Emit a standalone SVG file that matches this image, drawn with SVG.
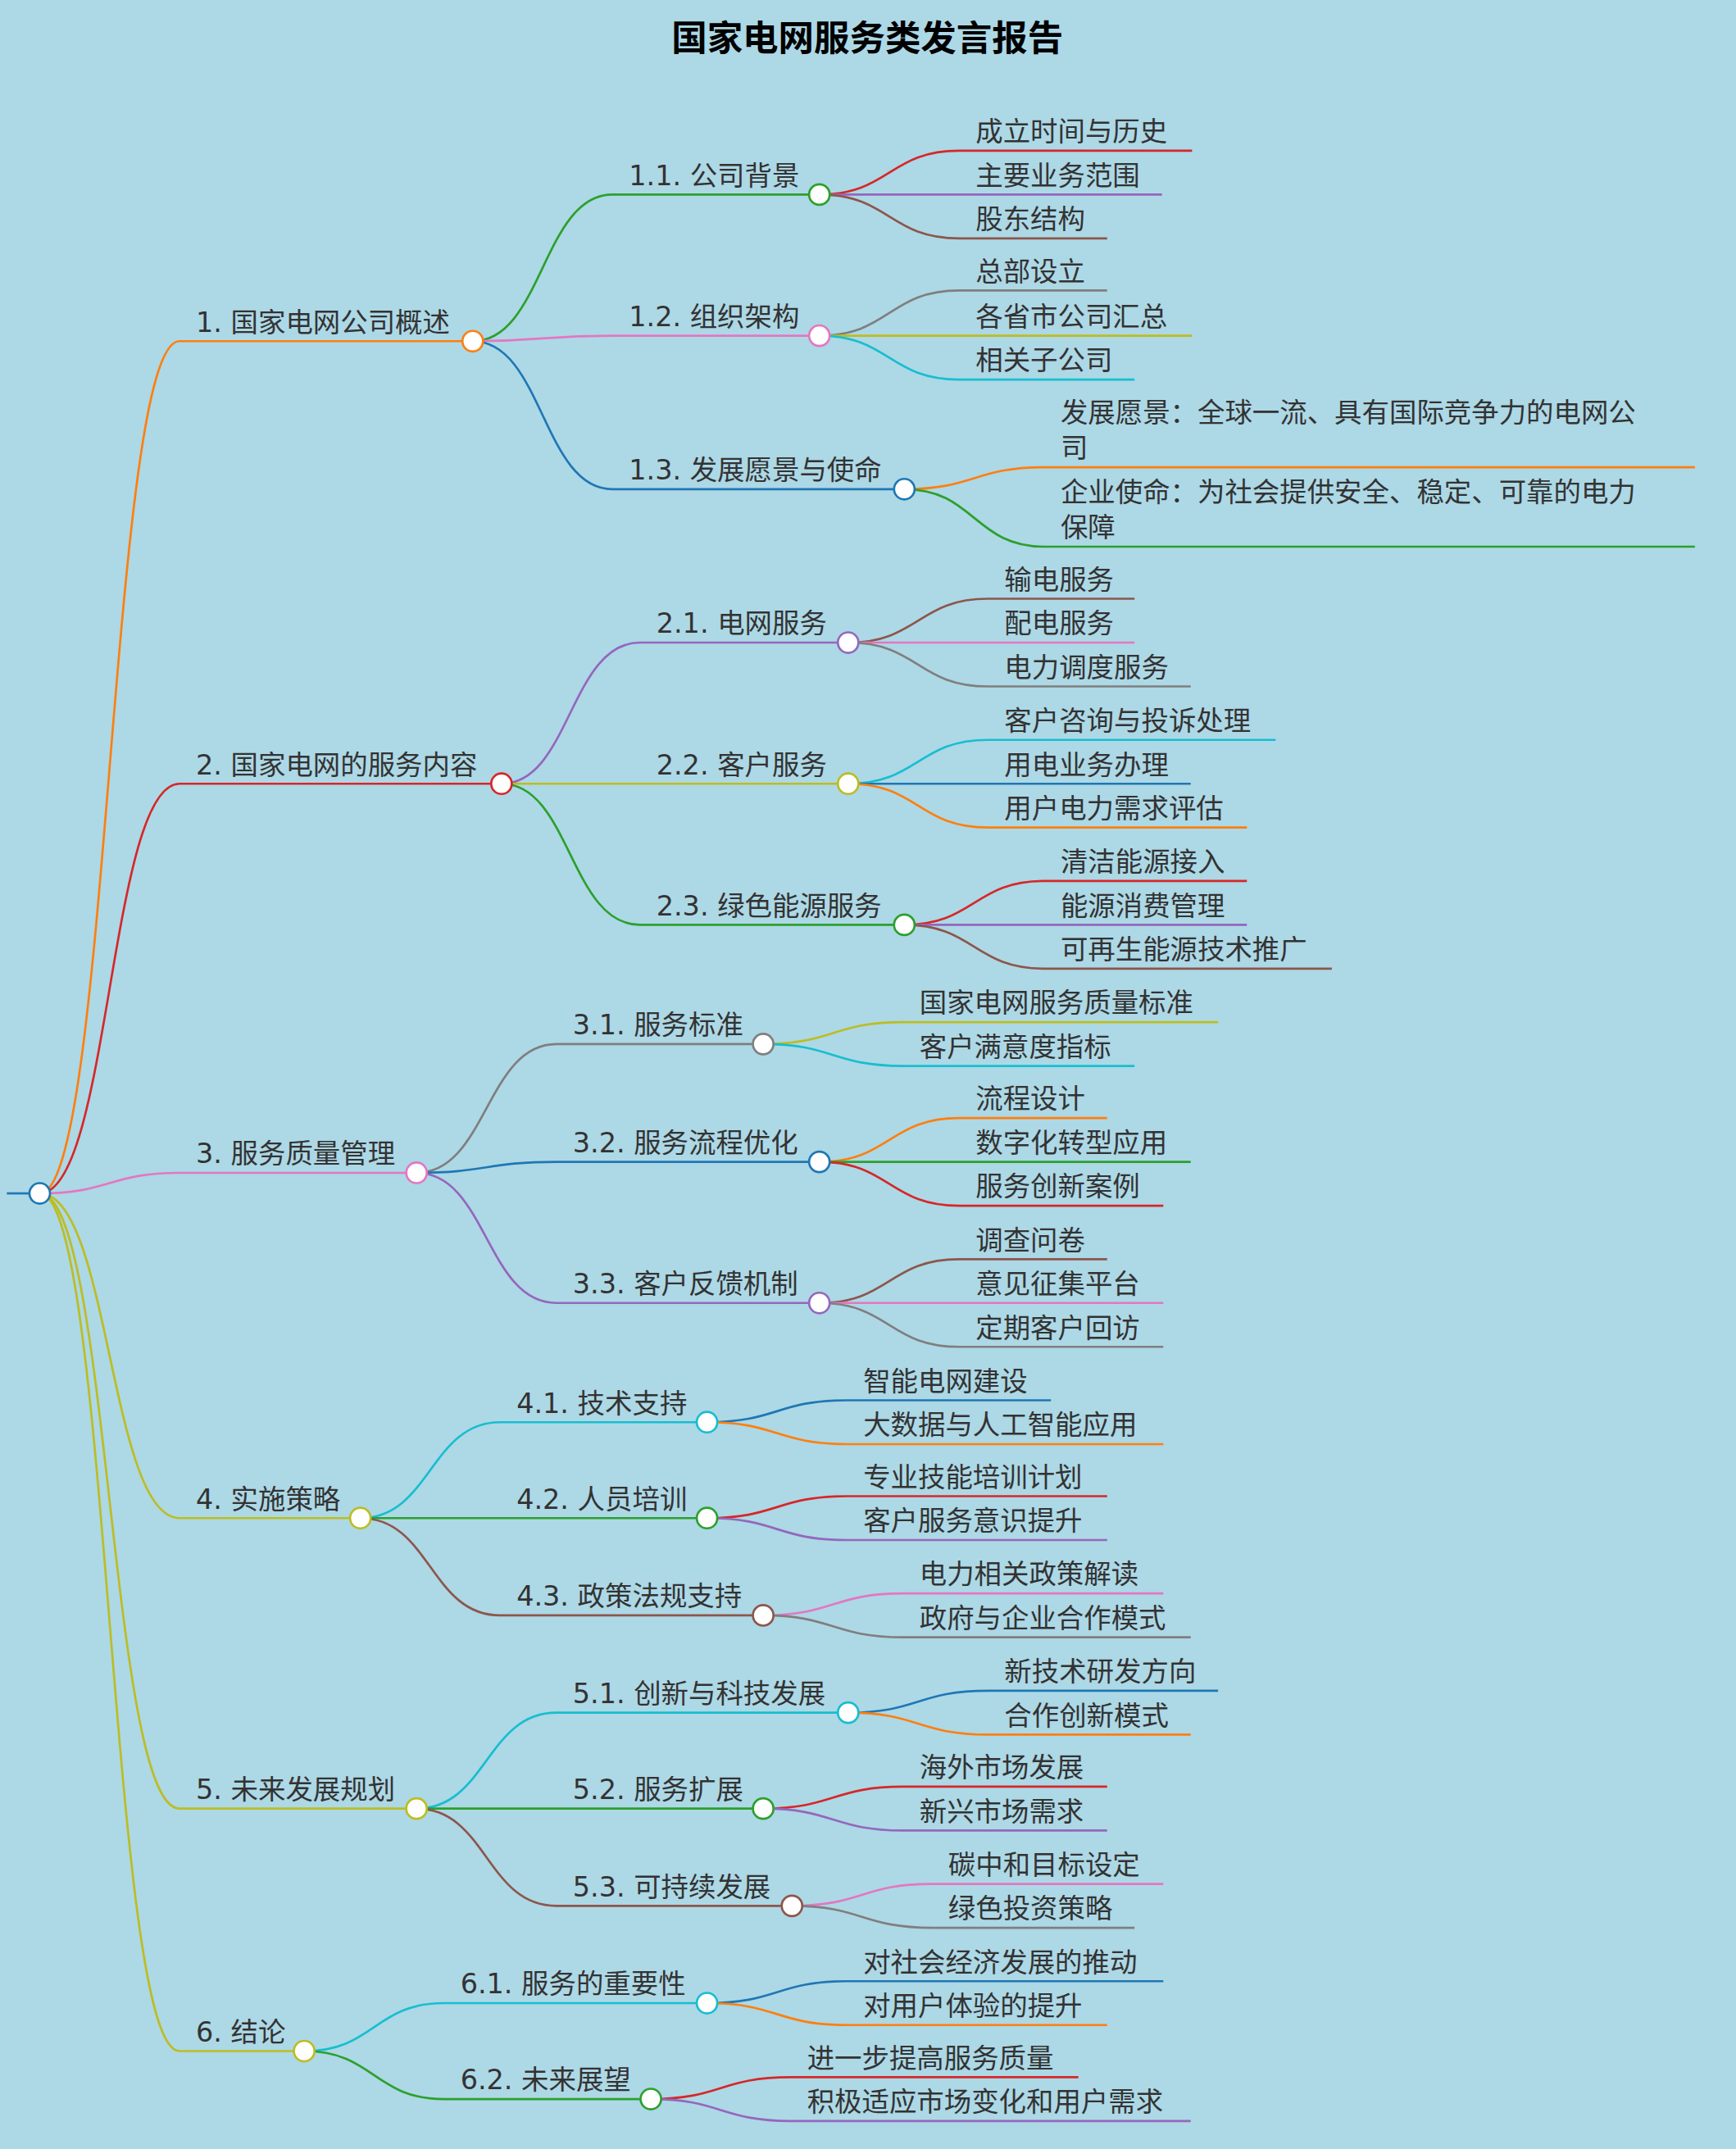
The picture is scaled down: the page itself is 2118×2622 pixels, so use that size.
<svg xmlns="http://www.w3.org/2000/svg" width="2118" height="2622" viewBox="0 0 2118 2622">
<style>
.e path{fill:none;stroke-width:1.6}
.t{font-family:"DejaVu Sans","Noto Sans CJK SC",sans-serif;font-size:20px;fill:#333}
circle{fill:#fff;stroke-width:1.6}
.O{stroke:#ff7f0e}.G{stroke:#2ca02c}.R{stroke:#d62728}.P{stroke:#9467bd}.B{stroke:#8c564b}.K{stroke:#e377c2}.Y{stroke:#7f7f7f}.L{stroke:#bcbd22}.C{stroke:#17becf}.U{stroke:#1f77b4}
</style>
<rect width="2118" height="2622" fill="#add8e6"/>
<g transform="scale(1.6717)">
<text x="633" y="37" text-anchor="middle" font-family="DejaVu Sans,'Noto Sans CJK SC',sans-serif" font-size="26" font-weight="bold" fill="#000">国家电网服务类发言报告</text>
<g id="connectors" class="e">
<path class="U" d="M5 871H21"/>
<path class="O" d="M29 871C80 871 80 249 131 249H337"/>
<path class="R" d="M29 871C80 871 80 572 131 572H358"/>
<path class="K" d="M29 871C80 871 80 856 131 856H296"/>
<path class="L" d="M29 871C80 871 80 1108 131 1108H255"/>
<path class="L" d="M29 871C80 871 80 1320 131 1320H296"/>
<path class="L" d="M29 871C80 871 80 1497 131 1497H214"/>
<path class="G" d="M345 249C396 249 396 142 447 142H590"/>
<path class="K" d="M345 249C396 249 396 245 447 245H590"/>
<path class="U" d="M345 249C396 249 396 357 447 357H652"/>
<path class="P" d="M366 572C416 572 416 469 467 469H611"/>
<path class="L" d="M366 572C416 572 416 572 467 572H611"/>
<path class="G" d="M366 572C416 572 416 675 467 675H652"/>
<path class="Y" d="M304 856C355 856 355 762 406 762H549"/>
<path class="U" d="M304 856C355 856 355 848 406 848H590"/>
<path class="P" d="M304 856C355 856 355 951 406 951H590"/>
<path class="C" d="M263 1108C314 1108 314 1038 365 1038H508"/>
<path class="G" d="M263 1108C314 1108 314 1108 365 1108H508"/>
<path class="B" d="M263 1108C314 1108 314 1179 365 1179H549"/>
<path class="C" d="M304 1320C355 1320 355 1250 406 1250H611"/>
<path class="G" d="M304 1320C355 1320 355 1320 406 1320H549"/>
<path class="B" d="M304 1320C355 1320 355 1391 406 1391H570"/>
<path class="C" d="M222 1497C273 1497 273 1462 324 1462H508"/>
<path class="G" d="M222 1497C273 1497 273 1532 324 1532H467"/>
<path class="R" d="M598 142C649 142 649 110 700 110H870"/>
<path class="P" d="M598 142C649 142 649 142 700 142H848"/>
<path class="B" d="M598 142C649 142 649 174 700 174H808"/>
<path class="Y" d="M598 245C649 245 649 212 700 212H808"/>
<path class="L" d="M598 245C649 245 649 245 700 245H870"/>
<path class="C" d="M598 245C649 245 649 277 700 277H828"/>
<path class="O" d="M660 357C711 357 711 341 762 341H1237"/>
<path class="G" d="M660 357C711 357 711 399 762 399H1237"/>
<path class="B" d="M619 469C670 469 670 437 721 437H828"/>
<path class="K" d="M619 469C670 469 670 469 721 469H828"/>
<path class="Y" d="M619 469C670 469 670 501 721 501H869"/>
<path class="C" d="M619 572C670 572 670 540 721 540H931"/>
<path class="U" d="M619 572C670 572 670 572 721 572H869"/>
<path class="O" d="M619 572C670 572 670 604 721 604H910"/>
<path class="R" d="M660 675C711 675 711 643 762 643H910"/>
<path class="P" d="M660 675C711 675 711 675 762 675H910"/>
<path class="B" d="M660 675C711 675 711 707 762 707H972"/>
<path class="L" d="M557 762C608 762 608 746 659 746H889"/>
<path class="C" d="M557 762C608 762 608 778 659 778H828"/>
<path class="O" d="M598 848C649 848 649 816 700 816H808"/>
<path class="G" d="M598 848C649 848 649 848 700 848H869"/>
<path class="R" d="M598 848C649 848 649 880 700 880H849"/>
<path class="B" d="M598 951C649 951 649 919 700 919H808"/>
<path class="K" d="M598 951C649 951 649 951 700 951H849"/>
<path class="Y" d="M598 951C649 951 649 983 700 983H849"/>
<path class="U" d="M516 1038C567 1038 567 1022 618 1022H767"/>
<path class="O" d="M516 1038C567 1038 567 1054 618 1054H849"/>
<path class="R" d="M516 1108C567 1108 567 1092 618 1092H808"/>
<path class="P" d="M516 1108C567 1108 567 1124 618 1124H808"/>
<path class="K" d="M557 1179C608 1179 608 1163 659 1163H849"/>
<path class="Y" d="M557 1179C608 1179 608 1195 659 1195H869"/>
<path class="U" d="M619 1250C670 1250 670 1234 721 1234H889"/>
<path class="O" d="M619 1250C670 1250 670 1266 721 1266H869"/>
<path class="R" d="M557 1320C608 1320 608 1304 659 1304H808"/>
<path class="P" d="M557 1320C608 1320 608 1336 659 1336H808"/>
<path class="K" d="M578 1391C629 1391 629 1375 680 1375H849"/>
<path class="Y" d="M578 1391C629 1391 629 1407 680 1407H828"/>
<path class="U" d="M516 1462C567 1462 567 1446 618 1446H849"/>
<path class="O" d="M516 1462C567 1462 567 1478 618 1478H808"/>
<path class="R" d="M475 1532C526 1532 526 1516 577 1516H787"/>
<path class="P" d="M475 1532C526 1532 526 1548 577 1548H869"/>
</g>
<g id="root"><circle class="U" cx="29" cy="871" r="7.5"/></g>
<g id="n1"><text class="t" x="143" y="242">1. 国家电网公司概述</text><circle class="O" cx="345" cy="249" r="7.5"/></g>
<g id="n2"><text class="t" x="143" y="565">2. 国家电网的服务内容</text><circle class="R" cx="366" cy="572" r="7.5"/></g>
<g id="n3"><text class="t" x="143" y="849">3. 服务质量管理</text><circle class="K" cx="304" cy="856" r="7.5"/></g>
<g id="n4"><text class="t" x="143" y="1101">4. 实施策略</text><circle class="L" cx="263" cy="1108" r="7.5"/></g>
<g id="n5"><text class="t" x="143" y="1313">5. 未来发展规划</text><circle class="L" cx="304" cy="1320" r="7.5"/></g>
<g id="n6"><text class="t" x="143" y="1490">6. 结论</text><circle class="L" cx="222" cy="1497" r="7.5"/></g>
<g id="n1_1"><text class="t" x="459" y="135">1.1. 公司背景</text><circle class="G" cx="598" cy="142" r="7.5"/></g>
<g id="n1_2"><text class="t" x="459" y="238">1.2. 组织架构</text><circle class="K" cx="598" cy="245" r="7.5"/></g>
<g id="n1_3"><text class="t" x="459" y="350">1.3. 发展愿景与使命</text><circle class="U" cx="660" cy="357" r="7.5"/></g>
<g id="n2_1"><text class="t" x="479" y="462">2.1. 电网服务</text><circle class="P" cx="619" cy="469" r="7.5"/></g>
<g id="n2_2"><text class="t" x="479" y="565">2.2. 客户服务</text><circle class="L" cx="619" cy="572" r="7.5"/></g>
<g id="n2_3"><text class="t" x="479" y="668">2.3. 绿色能源服务</text><circle class="G" cx="660" cy="675" r="7.5"/></g>
<g id="n3_1"><text class="t" x="418" y="755">3.1. 服务标准</text><circle class="Y" cx="557" cy="762" r="7.5"/></g>
<g id="n3_2"><text class="t" x="418" y="841">3.2. 服务流程优化</text><circle class="U" cx="598" cy="848" r="7.5"/></g>
<g id="n3_3"><text class="t" x="418" y="944">3.3. 客户反馈机制</text><circle class="P" cx="598" cy="951" r="7.5"/></g>
<g id="n4_1"><text class="t" x="377" y="1031">4.1. 技术支持</text><circle class="C" cx="516" cy="1038" r="7.5"/></g>
<g id="n4_2"><text class="t" x="377" y="1101">4.2. 人员培训</text><circle class="G" cx="516" cy="1108" r="7.5"/></g>
<g id="n4_3"><text class="t" x="377" y="1172">4.3. 政策法规支持</text><circle class="B" cx="557" cy="1179" r="7.5"/></g>
<g id="n5_1"><text class="t" x="418" y="1243">5.1. 创新与科技发展</text><circle class="C" cx="619" cy="1250" r="7.5"/></g>
<g id="n5_2"><text class="t" x="418" y="1313">5.2. 服务扩展</text><circle class="G" cx="557" cy="1320" r="7.5"/></g>
<g id="n5_3"><text class="t" x="418" y="1384">5.3. 可持续发展</text><circle class="B" cx="578" cy="1391" r="7.5"/></g>
<g id="n6_1"><text class="t" x="336" y="1455">6.1. 服务的重要性</text><circle class="C" cx="516" cy="1462" r="7.5"/></g>
<g id="n6_2"><text class="t" x="336" y="1525">6.2. 未来展望</text><circle class="G" cx="475" cy="1532" r="7.5"/></g>
<g id="leaves" class="t">
<text x="712" y="103">成立时间与历史</text>
<text x="712" y="135">主要业务范围</text>
<text x="712" y="167">股东结构</text>
<text x="712" y="205">总部设立</text>
<text x="712" y="238">各省市公司汇总</text>
<text x="712" y="270">相关子公司</text>
<text x="774" y="308">发展愿景：全球一流、具有国际竞争力的电网公</text>
<text x="774" y="334">司</text>
<text x="774" y="366">企业使命：为社会提供安全、稳定、可靠的电力</text>
<text x="774" y="392">保障</text>
<text x="733" y="430">输电服务</text>
<text x="733" y="462">配电服务</text>
<text x="733" y="494">电力调度服务</text>
<text x="733" y="533">客户咨询与投诉处理</text>
<text x="733" y="565">用电业务办理</text>
<text x="733" y="597">用户电力需求评估</text>
<text x="774" y="636">清洁能源接入</text>
<text x="774" y="668">能源消费管理</text>
<text x="774" y="700">可再生能源技术推广</text>
<text x="671" y="739">国家电网服务质量标准</text>
<text x="671" y="771">客户满意度指标</text>
<text x="712" y="809">流程设计</text>
<text x="712" y="841">数字化转型应用</text>
<text x="712" y="873">服务创新案例</text>
<text x="712" y="912">调查问卷</text>
<text x="712" y="944">意见征集平台</text>
<text x="712" y="976">定期客户回访</text>
<text x="630" y="1015">智能电网建设</text>
<text x="630" y="1047">大数据与人工智能应用</text>
<text x="630" y="1085">专业技能培训计划</text>
<text x="630" y="1117">客户服务意识提升</text>
<text x="671" y="1156">电力相关政策解读</text>
<text x="671" y="1188">政府与企业合作模式</text>
<text x="733" y="1227">新技术研发方向</text>
<text x="733" y="1259">合作创新模式</text>
<text x="671" y="1297">海外市场发展</text>
<text x="671" y="1329">新兴市场需求</text>
<text x="692" y="1368">碳中和目标设定</text>
<text x="692" y="1400">绿色投资策略</text>
<text x="630" y="1439">对社会经济发展的推动</text>
<text x="630" y="1471">对用户体验的提升</text>
<text x="589" y="1509">进一步提高服务质量</text>
<text x="589" y="1541">积极适应市场变化和用户需求</text>
</g>
</g>
</svg>
